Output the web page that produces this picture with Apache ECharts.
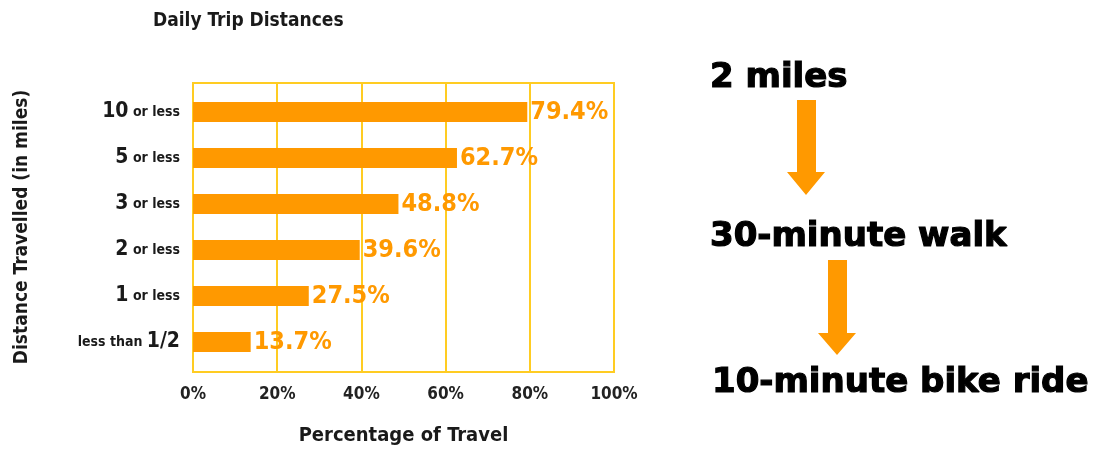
<!DOCTYPE html>
<html>
<head>
<meta charset="utf-8">
<script src="https://cdn.jsdelivr.net/npm/echarts@6/dist/echarts.min.js"></script>
<style>
html,body{margin:0;padding:0;background:#fff;}
#chart{width:1107px;height:451px;}
</style>
</head>
<body>
<div id="chart"></div>
<script>
const categories = ['10 or less', '5 or less', '3 or less', '2 or less', '1 or less', 'less than 1/2'];
const percentages = [79.4, 62.7, 48.8, 39.6, 27.5, 13.7];
const xTicks = [0, 20, 40, 60, 80, 100];
const sideNotes = ['2 miles', '30-minute walk', '10-minute bike ride'];

const NARROW = "'Liberation Sans Narrow', 'DejaVu Sans Condensed', 'Roboto Condensed', 'Liberation Sans', sans-serif";
const ORANGE = '#FF9900';
const GOLD = '#FFCC22';
const BIG = "bold 34px 'DejaVu Sans', sans-serif";

const chart = echarts.init(document.getElementById('chart'), null, {renderer: 'canvas'});

function catLabel(v) {
  const m = v.match(/^(\d+)(.*)$/);
  if (m) return '{n|' + m[1] + '}{s|' + m[2] + '}';
  const m2 = v.match(/^(.*?)([\d\/]+)$/);
  if (m2) return '{s|' + m2[1] + '}{n|' + m2[2] + '}';
  return '{s|' + v + '}';
}

function arrow(shaftL, shaftR, top, headY, headL, headR, tipY) {
  const cx = (headL + headR) / 2;
  return {
    type: 'polygon',
    shape: {points: [[shaftL, top], [shaftR, top], [shaftR, headY], [headR, headY], [cx, tipY], [headL, headY], [shaftL, headY]]},
    style: {fill: ORANGE}
  };
}

function note(text, x, y) {
  return {type: 'text', x: x, y: y, style: {text: text, font: BIG, fill: '#000', stroke: '#000', lineWidth: 1.2, textVerticalAlign: 'middle'}};
}

const option = {
  backgroundColor: '#fff',
  animation: false,
  title: {
    text: 'Daily Trip Distances',
    left: 148, top: 7,
    textStyle: {fontFamily: NARROW, fontWeight: 'bold', fontSize: 19, color: '#1a1a1a'}
  },
  grid: [
    {left: 193, top: 83, width: 421, height: 290, show: true, borderColor: GOLD, borderWidth: 2, backgroundColor: 'transparent'},
    {left: 193, top: 89, width: 421, height: 276}
  ],
  xAxis: [
    {
      gridIndex: 0, type: 'value', min: 0, max: 100, interval: 20,
      axisLine: {show: false}, axisTick: {show: false},
      splitLine: {show: true, lineStyle: {color: GOLD, width: 2}},
      axisLabel: {
        margin: 14, color: '#222', fontFamily: NARROW, fontWeight: 'bold', fontSize: 17,
        formatter: function (v) { return xTicks.indexOf(v) >= 0 ? v + '%' : ''; }
      },
      name: 'Percentage of Travel', nameLocation: 'middle', nameGap: 54,
      nameTextStyle: {fontFamily: NARROW, fontWeight: 'bold', fontSize: 20, color: '#1a1a1a'}
    },
    {gridIndex: 1, type: 'value', min: 0, max: 100, show: false}
  ],
  yAxis: [
    {gridIndex: 0, type: 'value', show: false, splitLine: {show: false}},
    {
      gridIndex: 1, type: 'category', data: categories, inverse: true,
      axisLine: {show: false}, axisTick: {show: false},
      axisLabel: {
        margin: 13, formatter: catLabel,
        rich: {
          n: {fontFamily: NARROW, fontWeight: 'bold', fontSize: 21, color: '#1a1a1a'},
          s: {fontFamily: NARROW, fontWeight: 'bold', fontSize: 14, color: '#1a1a1a'}
        }
      },
      name: 'Distance Travelled (in miles)', nameLocation: 'middle', nameRotate: 90, nameGap: 161,
      nameTextStyle: {fontFamily: NARROW, fontWeight: 'bold', fontSize: 19, color: '#1a1a1a'}
    }
  ],
  series: [{
    type: 'bar', xAxisIndex: 1, yAxisIndex: 1,
    data: percentages, barWidth: 20,
    itemStyle: {color: ORANGE},
    label: {
      show: true, position: 'right', distance: 3,
      formatter: '{c}%', color: ORANGE,
      fontFamily: NARROW, fontWeight: 'bold', fontSize: 25
    }
  }],
  graphic: [
    note(sideNotes[0], 710, 78),
    note(sideNotes[1], 710, 237),
    note(sideNotes[2], 712, 383),
    arrow(797, 816, 100, 172, 787, 825, 195),
    arrow(828, 847, 260, 333, 818, 856, 355)
  ]
};
chart.setOption(option);
</script>
</body>
</html>
